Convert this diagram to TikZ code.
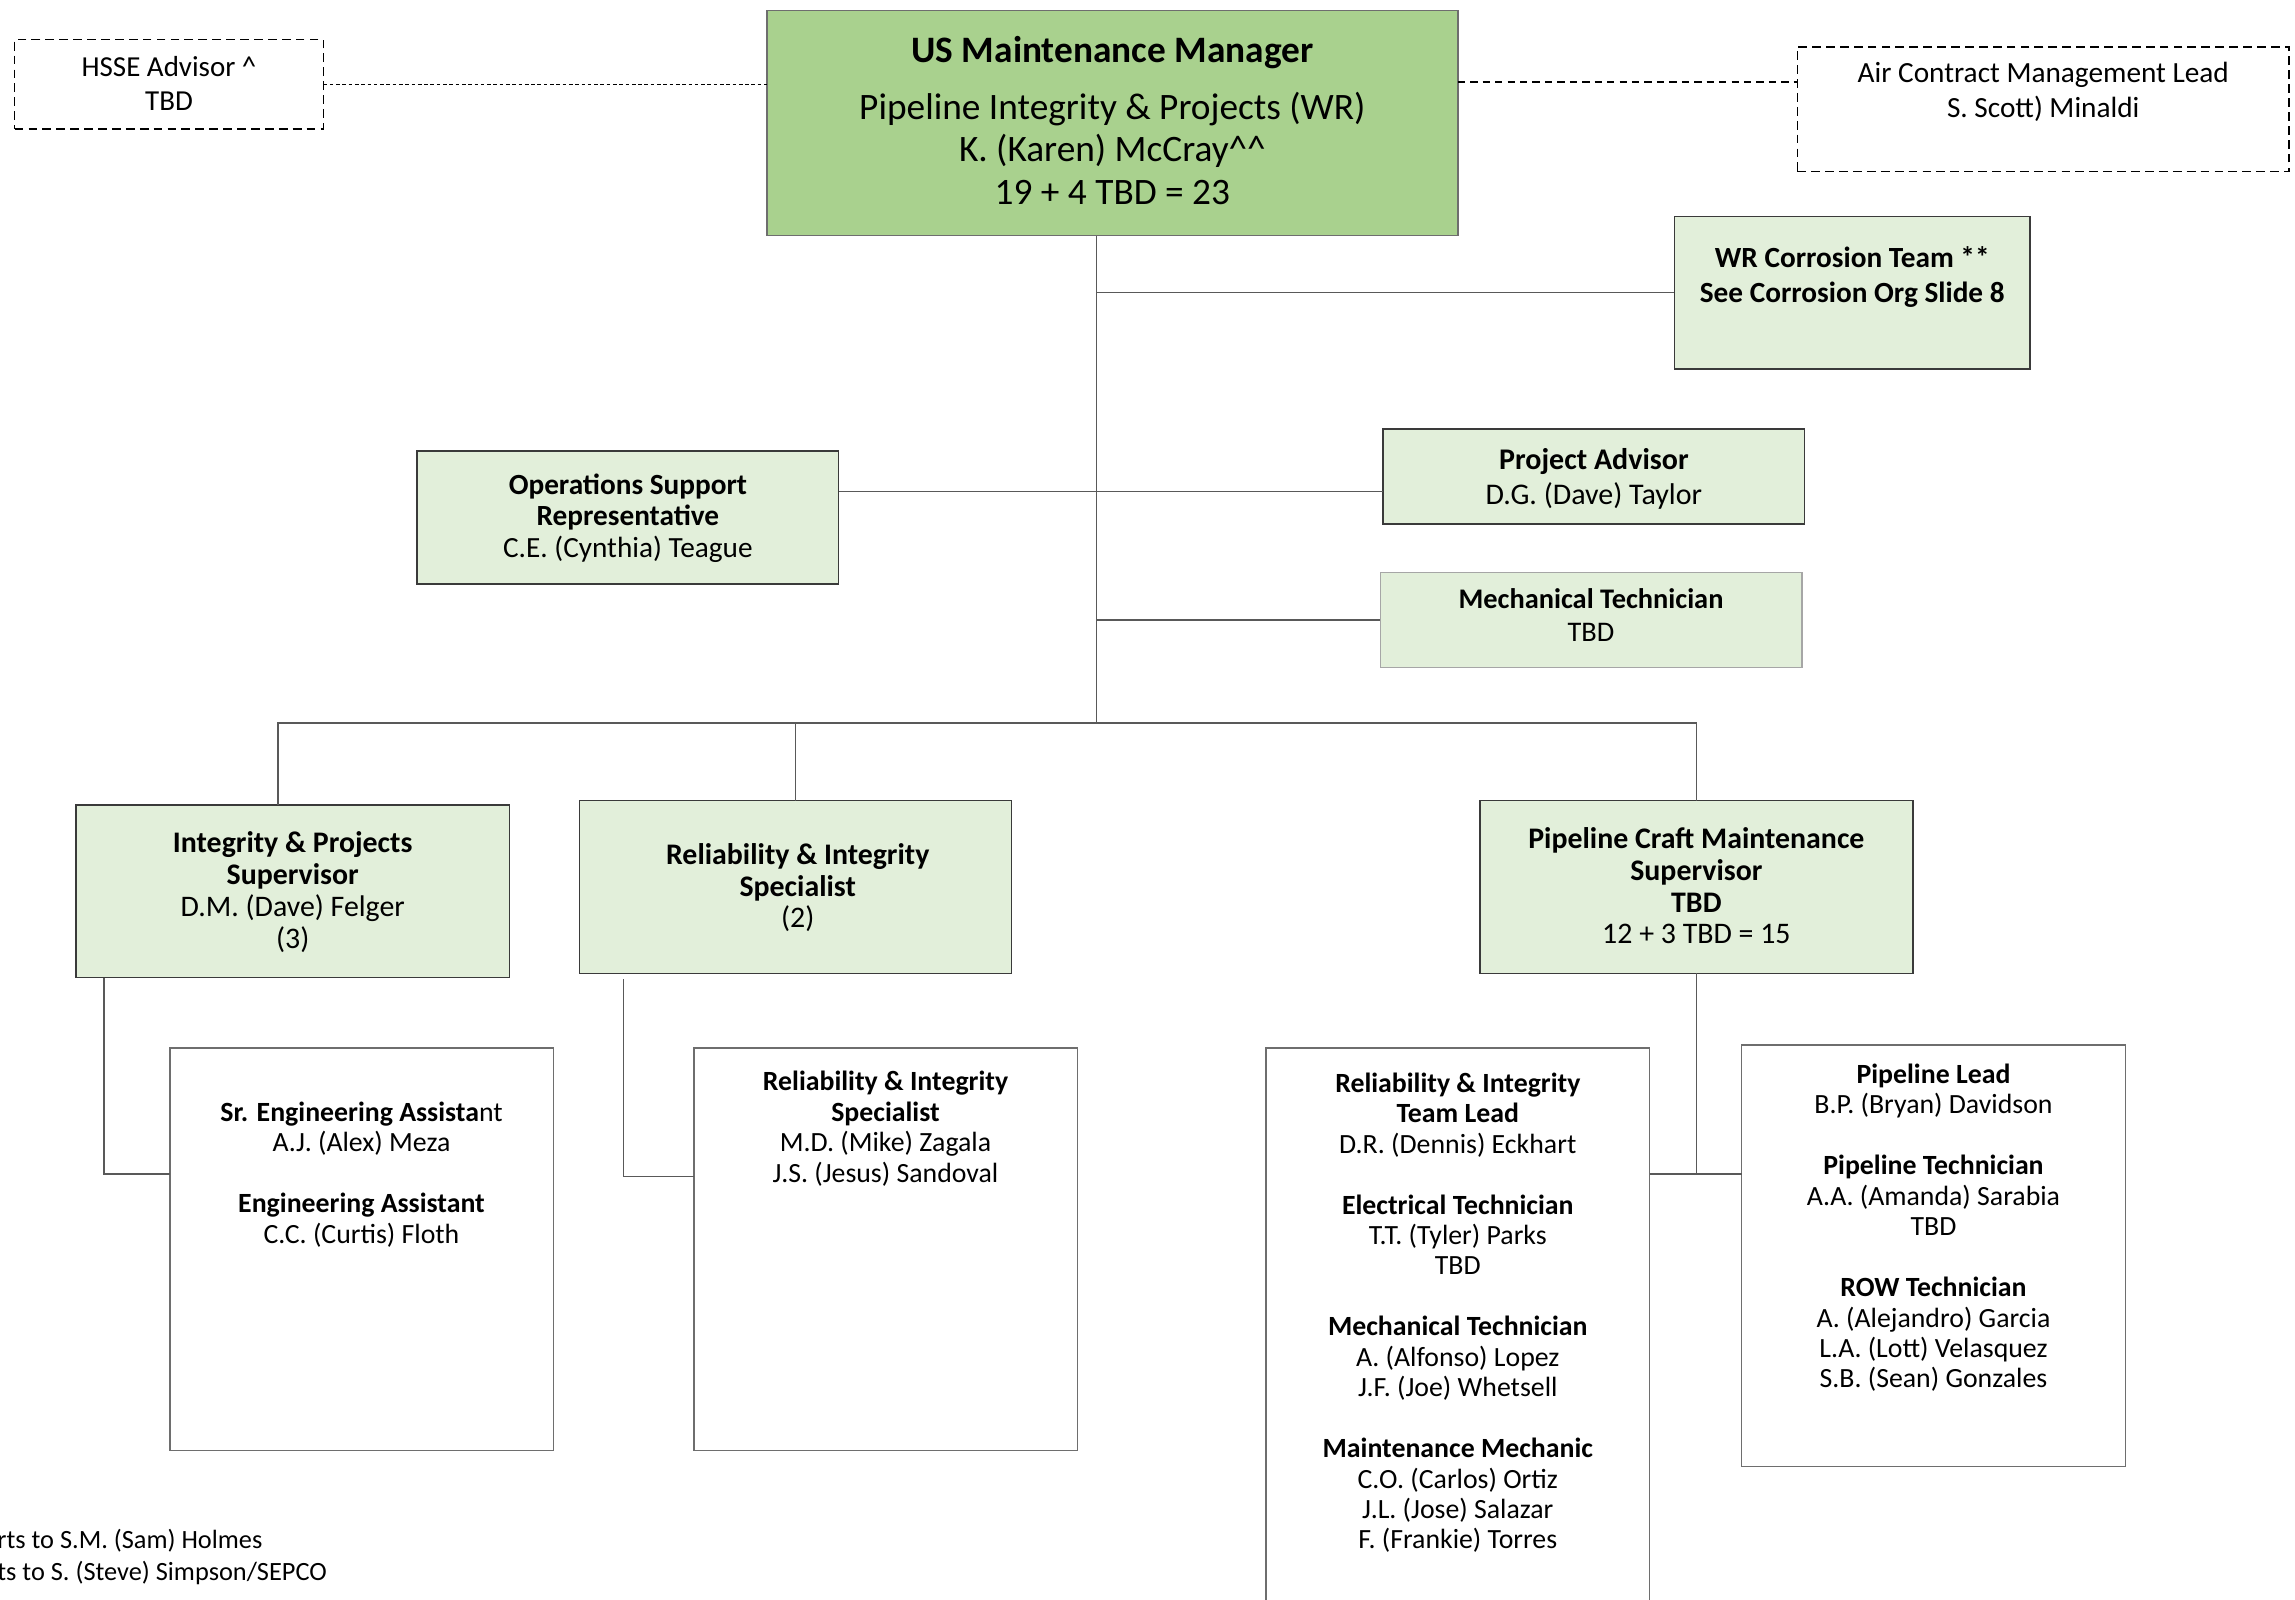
\documentclass[tikz,border=0pt]{standalone}
\usepackage{fontspec}
\setmainfont{Carlito}
\definecolor{mgrgreen}{HTML}{A9D18E}
\definecolor{lightgreen}{HTML}{E2EFDA}
\definecolor{edgedark}{HTML}{3A3A3A}
\definecolor{edgegray}{HTML}{6E6E6E}
\definecolor{edgelight}{HTML}{A6A6A6}
\definecolor{linegray}{HTML}{595959}
\begin{document}
\begin{tikzpicture}[x=1pt,y=-1pt,
  boxbase/.style={rectangle, inner sep=0pt, outer sep=0pt},
  mgrbox/.style={boxbase, draw=edgegray, line width=1pt, fill=mgrgreen},
  greenbox/.style={boxbase, draw=edgedark, line width=1pt, fill=lightgreen},
  greenboxlight/.style={boxbase, draw=edgelight, line width=1pt, fill=lightgreen},
  whitebox/.style={boxbase, draw=edgegray, line width=1pt, fill=white},
  dashbox/.style={boxbase, draw=black, line width=1pt, dash pattern=on 6pt off 3.5pt},
  conn/.style={draw=linegray, line width=0.9pt},
  dashconnA/.style={draw=black, line width=0.8pt, dash pattern=on 2.5pt off 1.8pt},
  dashconnB/.style={draw=black, line width=1pt, dash pattern=on 5pt off 3.5pt},
  lbl/.style={anchor=north, inner sep=0pt, outer sep=0pt, align=center},
  fs19/.style={font=\fontsize{19}{20.8}\selectfont},
  fs20/.style={font=\fontsize{20.4}{21.7}\selectfont}
]
\path[use as bounding box] (0,0) rectangle (1568,1093);
\clip (0,0) rectangle (1568,1093);

% ---------- top level ----------
\node[dashbox, minimum width=211pt, minimum height=61pt] (hsse) at (115.5,57.5) {};
\node[lbl, font=\fontsize{19.8}{23}\selectfont] (t-hsse) at (115.5,36.4)
  {\strut HSSE Advisor \textasciicircum\\ TBD};

\node[mgrbox, minimum width=472pt, minimum height=154pt] (mgr) at (760,84) {};
\node[lbl, font=\fontsize{25.5}{29}\selectfont] (t-mgr) at (760,22.1)
  {\strut\textbf{US Maintenance Manager}\\[10pt]
   Pipeline Integrity \& Projects (WR)\\
   K. (Karen) McCray\textasciicircum\textasciicircum\\
   19 + 4 TBD = 23};

\node[dashbox, minimum width=336pt, minimum height=85pt] (air) at (1396,74.5) {};
\node[lbl, font=\fontsize{20}{24}\selectfont] (t-air) at (1396,39.8)
  {\strut Air Contract Management Lead\\ S. Scott) Minaldi};

\draw[dashconnA] (hsse.east) -- (hsse.east -| mgr.west);
\coordinate (airjoin) at ([yshift=18.5pt]air.west);
\draw[dashconnB] (airjoin -| mgr.east) -- (airjoin);

% ---------- staff ----------
\coordinate (bus) at (749,494);

\node[greenbox, minimum width=243pt, minimum height=104pt] (wr) at (1265.5,200) {};
\node[lbl, font=\fontsize{20}{24}\selectfont\bfseries] (t-wr) at (1265.5,165.8)
  {\strut WR Corrosion Team **\\ See Corrosion Org Slide 8};

\node[greenbox, minimum width=288pt, minimum height=91pt] (ops) at (429,353.5) {};
\node[lbl, font=\fontsize{20}{21.5}\selectfont] (t-ops) at (429,322.5)
  {\strut\textbf{Operations Support}\\ \textbf{Representative}\\ C.E. (Cynthia) Teague};

\node[greenbox, minimum width=288pt, minimum height=65pt] (pa) at (1089,325.5) {};
\node[lbl, font=\fontsize{20.5}{24}\selectfont] (t-pa) at (1089,304)
  {\strut\textbf{Project Advisor}\\ D.G. (Dave) Taylor};

\node[greenboxlight, minimum width=288pt, minimum height=65pt] (mt) at (1087,423.5) {};
\node[lbl, font=\fontsize{19.4}{23}\selectfont] (t-mt) at (1087,399.3)
  {\strut\textbf{Mechanical Technician}\\ TBD};

\coordinate (opsjoin) at ([yshift=17.5pt]ops.east);
\coordinate (pajoin) at ([yshift=-10.5pt]pa.west);
\draw[conn] (bus |- mgr.south) -- (bus);
\draw[conn] (wr.west -| bus) -- (wr.west);
\draw[conn] (opsjoin) -- (opsjoin -| bus);
\draw[conn] (pajoin -| bus) -- (pajoin);
\draw[conn] (mt.west -| bus) -- (mt.west);

% ---------- second tier ----------
\node[greenbox, minimum width=296pt, minimum height=118pt] (ips) at (200,609) {};
\node[lbl, fs20] (t-ips) at (200,567.5)
  {\strut\textbf{Integrity \& Projects}\\ \textbf{Supervisor}\\ D.M. (Dave) Felger\\ (3)};

\node[greenbox, minimum width=295pt, minimum height=118pt] (ris) at (543.5,606) {};
\node[lbl, font=\fontsize{20.4}{21.5}\selectfont] (t-ris) at (545,575.7)
  {\strut\textbf{Reliability \& Integrity}\\ \textbf{Specialist}\\ (2)};

\node[greenbox, minimum width=296pt, minimum height=118pt] (pcm) at (1159,606) {};
\node[lbl, fs20] (t-pcm) at (1159,564.5)
  {\strut\textbf{Pipeline Craft Maintenance}\\ \textbf{Supervisor}\\ \textbf{TBD}\\ 12 + 3 TBD = 15};

\coordinate (ipstop) at ([xshift=-10pt]ips.north);
\draw[conn] (ipstop) -- (ipstop |- bus) -- (pcm.north |- bus) -- (pcm.north);
\draw[conn] (ris.north) -- (ris.north |- bus);

% ---------- third tier ----------
\node[whitebox, minimum width=262pt, minimum height=275pt] (subL) at (247,853.5) {};
\node[lbl, fs19] (t-subL) at (247,751.7)
  {\strut\textbf{Sr. Engineering Assista}nt\\ A.J. (Alex) Meza\\[20.8pt]
   \textbf{Engineering Assistant}\\ C.C. (Curtis) Floth};

\node[whitebox, minimum width=262pt, minimum height=275pt] (subM) at (605,853.5) {};
\node[lbl, fs19] (t-subM) at (605,730.7)
  {\strut\textbf{Reliability \& Integrity}\\ \textbf{Specialist}\\ M.D. (Mike) Zagala\\ J.S. (Jesus) Sandoval};

\node[whitebox, minimum width=262pt, minimum height=394pt] (subRL) at (996,913) {};
\node[lbl, fs19] (t-subRL) at (996,731.7)
  {\strut\textbf{Reliability \& Integrity}\\ \textbf{Team Lead}\\ D.R. (Dennis) Eckhart\\[20.8pt]
   \textbf{Electrical Technician}\\ T.T. (Tyler) Parks\\ TBD\\[20.8pt]
   \textbf{Mechanical Technician}\\ A. (Alfonso) Lopez\\ J.F. (Joe) Whetsell\\[20.8pt]
   \textbf{Maintenance Mechanic}\\ C.O. (Carlos) Ortiz\\ J.L. (Jose) Salazar\\ F. (Frankie) Torres};

\node[whitebox, minimum width=262pt, minimum height=288pt] (subR) at (1321,858) {};
\node[lbl, fs19] (t-subR) at (1321,725.7)
  {\strut\textbf{Pipeline Lead}\\ B.P. (Bryan) Davidson\\[20.8pt]
   \textbf{Pipeline Technician}\\ A.A. (Amanda) Sarabia\\ TBD\\[20.8pt]
   \textbf{ROW Technician}\\ A. (Alejandro) Garcia\\ L.A. (Lott) Velasquez\\ S.B. (Sean) Gonzales};

\coordinate (ipsdrop) at ([xshift=19pt]ips.south west);
\coordinate (risdrop) at ([xshift=30pt,yshift=-4pt]ris.south west);
\coordinate (subLjoin) at ([yshift=51.5pt]subL.west);
\coordinate (subMjoin) at ([yshift=49.5pt]subM.west);
\coordinate (subRjoin) at ([yshift=56pt]subR.west);
\coordinate (subRLjoin) at ([yshift=111pt]subRL.east);
\draw[conn] (ipsdrop) |- (subLjoin);
\draw[conn] (risdrop) |- (subMjoin);
\draw[conn] (pcm.south) -- (pcm.south |- subRjoin);
\draw[conn] (subRLjoin) -- (subRjoin);

% ---------- footnotes (cut at the left edge) ----------
\node[anchor=north west, inner sep=0pt, align=left, font=\fontsize{18}{22}\selectfont] (notes) at (-2,1042.5)
  {\strut rts to S.M. (Sam) Holmes\\ ts to S. (Steve) Simpson/SEPCO};
\end{tikzpicture}
\end{document}
